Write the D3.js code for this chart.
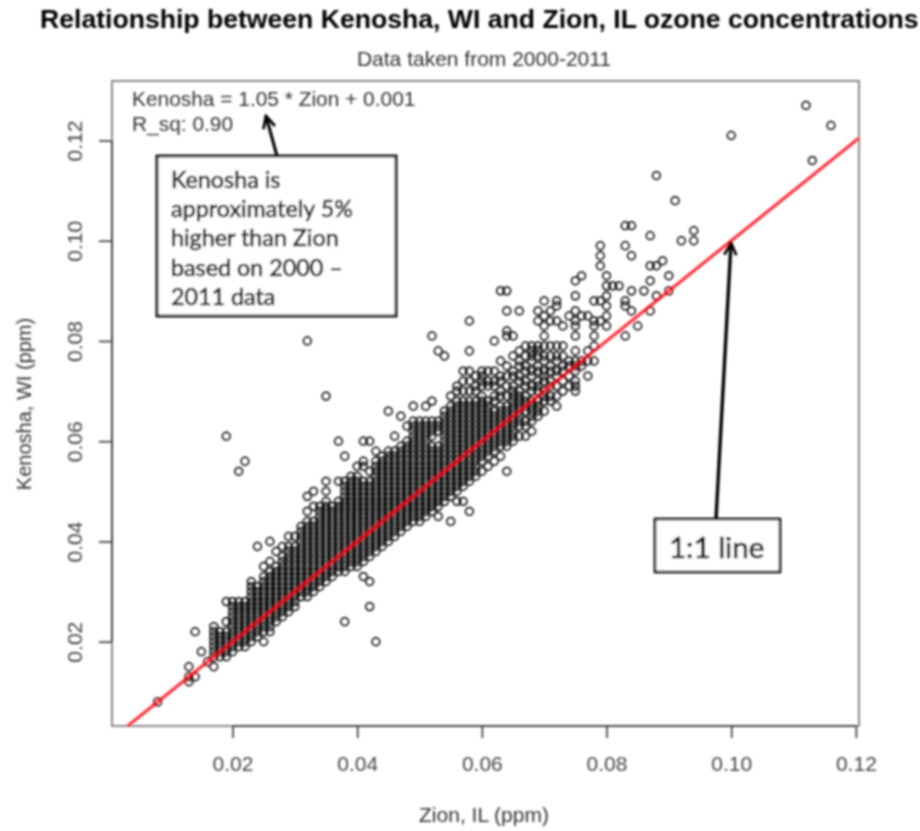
<!DOCTYPE html>
<html>
<head>
<meta charset="utf-8">
<script src="https://cdn.jsdelivr.net/npm/d3@7"></script>
<style>
html,body{margin:0;padding:0;background:#fff;overflow:hidden}
svg{display:block}
</style>
</head>
<body>
<div id="chart"></div>
<script>
// values, in ppb (grid is 0.001 ppm)
var zion = [8,13,14,15,16,17,18,19,20,21,22,23,24,25,26,27,28,29,30,31,32,33,34,35,36,37,38,39,40,41,42,43,44,45,46,47,48,49,50,51,52,53,54,55,56,57,58,59,60,61,62,63,64,65,66,67,68,69,70,71,72,73,74,75,76,77,78,79,80,81,82,83,84,85,86,87,88,89,90,91,92,94,100,112,113,116];
var kenosha = [
[8],
[12,13,15],
[13,22],
[18],
[16],
[15,17,18,19,20,21,22,23],
[17,18,19,20,21,22],
[17,18,19,20,21,22,24,28,61],
[18,19,20,21,22,23,24,25,26,27,28],
[19,20,21,22,23,24,25,26,27,28,54],
[19,20,21,22,23,24,25,26,27,28,56],
[20,21,22,23,24,25,26,27,28,29,30,31,32],
[21,22,23,24,25,26,27,28,29,30,31,39],
[20,22,23,24,25,26,27,28,29,30,31,32,33,35],
[22,23,24,25,26,27,28,29,30,31,32,33,34,36,40],
[24,25,26,27,28,29,30,31,32,33,34,35,38],
[25,26,27,28,29,30,31,32,33,34,35,36,37,39],
[26,27,28,29,30,31,32,33,34,35,36,37,38,39,41],
[27,28,29,30,31,32,33,34,35,36,37,38,39,41],
[29,30,31,32,33,34,35,36,37,38,39,40,41,42,43],
[29,30,31,32,33,34,35,36,37,38,39,40,41,42,43,44,46,49,80],
[30,31,32,33,34,35,36,37,38,39,40,41,42,43,44,47,50],
[31,32,33,34,35,36,37,38,39,40,41,42,43,44,45,46,47],
[32,33,34,35,36,37,38,39,40,41,42,43,44,45,46,47,48,50,52,69],
[33,34,35,36,37,38,39,40,41,42,43,44,45,46,47],
[34,35,36,37,38,39,40,41,42,43,44,45,46,47,48,52,60],
[24,34,35,36,37,38,39,40,41,42,43,44,45,46,47,48,49,50,51,52,57],
[35,36,37,38,39,40,41,42,43,44,45,46,47,48,49,50,51,52,53],
[35,36,37,38,39,40,41,42,43,44,45,46,47,48,49,50,51,52,53,55],
[33,36,37,38,39,40,41,42,43,44,45,46,47,48,49,50,51,52,55,56,60],
[27,32,37,38,39,40,41,42,43,44,45,46,47,48,49,50,51,52,54,60],
[20,38,39,40,41,42,43,44,45,46,47,48,49,50,51,52,53,54,55,56,58],
[39,40,41,42,43,44,45,46,47,48,49,50,51,52,53,54,55,56,57],
[40,41,42,43,44,45,46,47,48,49,50,51,52,53,54,55,56,57,58,66],
[41,42,43,44,45,46,47,48,49,50,51,52,53,54,55,56,57,58,61],
[42,43,44,45,46,47,48,49,50,51,52,53,54,55,56,57,58,59,65],
[43,44,45,46,47,48,49,50,51,52,53,54,55,56,57,58,59,60,63],
[44,45,46,47,48,49,50,51,52,53,54,55,56,57,58,59,60,61,62,63,64,67],
[44,45,46,47,48,49,50,51,52,53,54,55,56,57,58,59,60,61,62,63,64],
[45,46,47,48,49,50,51,52,53,54,55,56,57,58,59,60,61,62,63,64,67],
[46,47,48,49,50,51,52,53,54,55,56,57,58,59,61,62,63,64,68,81],
[45,47,48,49,50,51,52,53,54,55,56,57,58,59,62,63,64,78],
[48,49,50,51,52,53,54,55,56,57,58,59,60,61,62,63,64,65,66,77],
[44,49,50,51,52,53,54,55,56,57,58,59,60,61,62,63,64,65,66,67,69],
[48,50,51,52,53,54,55,56,57,58,59,60,61,62,63,64,65,66,67,68,70,71],
[48,51,52,53,54,55,56,57,58,59,60,61,62,63,64,65,66,67,68,70,72,74],
[46,52,53,54,55,56,57,58,59,60,61,62,63,64,65,66,67,68,70,72,74,78,84],
[53,54,55,56,57,58,59,60,61,62,63,64,65,66,67,68,70,71,73],
[54,56,57,58,59,60,61,62,63,64,65,66,67,68,69,71,72,73,74],
[55,57,58,59,60,61,62,63,64,65,66,67,68,71,72,74],
[56,58,59,60,61,62,63,64,65,66,68,69,71,72,74,80],
[57,59,60,61,62,63,64,65,66,67,69,70,72,73,76,90],
[54,59,60,61,62,63,64,65,66,67,69,71,73,75,81,82,86,90],
[60,61,62,63,64,65,66,67,68,69,70,71,73,74,77,81],
[61,63,64,65,66,67,68,69,70,72,73,75,76,78,86],
[61,63,64,66,67,68,69,71,72,74,75,77,79],
[62,64,65,66,67,68,70,71,73,74,76,77,78,79],
[65,66,67,68,70,71,72,74,75,77,78,79,84,86],
[66,68,69,70,72,73,74,76,77,79,81,83,85,88],
[68,69,71,72,74,75,77,79,84,86],
[67,69,71,73,74,76,77,79,84,87,88],
[70,72,74,75,77,79,83],
[71,73,75,76,85],
[70,71,72,74,75,76,78,81,83,84,86,89,92],
[75,76,85,93],
[73,76,78,85],
[76,79,81,83,84,88],
[84,88,95,97,99],
[83,85,87,89,91,93],
[91],
[91],
[81,87,88,99,103],
[86,90,97,103],
[83],
[90],
[86,92,95,101],
[89,95,113],
[96],
[90,93],
[108],
[100],
[100,102],
[121],
[127],
[116],
[123]
];
var xTicks = [0.02,0.04,0.06,0.08,0.10,0.12];
var yTicks = [0.02,0.04,0.06,0.08,0.10,0.12];
var calloutLines = ["Kenosha is","approximately 5%","higher than Zion","based on 2000 \u2013","2011 data"];

var w = 920, h = 831;

var points = [];
zion.forEach(function(z,i){
  kenosha[i].forEach(function(k){
    points.push([z/1000,k/1000]);
  });
});

var x = d3.scaleLinear().domain([0.00067,0.1205]).range([112,859]);
var y = d3.scaleLinear().domain([0.00318,0.13187]).range([726,81]);

var svg = d3.select("#chart").append("svg")
  .attr("width",w).attr("height",h)
  .style("font-family","'Liberation Sans',Arial,sans-serif");

var defs = svg.append("defs");
defs.append("filter").attr("id","soft")
  .attr("filterUnits","userSpaceOnUse")
  .attr("x",0).attr("y",0).attr("width",w).attr("height",h)
  .append("feGaussianBlur").attr("stdDeviation",0.8);

defs.append("marker").attr("id","head")
  .attr("viewBox","0 0 16 16").attr("refX",14).attr("refY",8)
  .attr("markerWidth",16).attr("markerHeight",16).attr("markerUnits","userSpaceOnUse")
  .attr("orient","auto")
  .append("path").attr("d","M2,2 L14,8 L2,14").attr("fill","none").attr("stroke","#000").attr("stroke-width",2.8);

var g = svg.append("g").attr("filter","url(#soft)");

// plot box
g.append("rect").attr("x",112).attr("y",81).attr("width",747).attr("height",645)
  .attr("fill","none").attr("stroke","#888").attr("stroke-width",2);

// points
g.append("g").selectAll("circle").data(points).enter().append("circle")
  .attr("cx",function(d){return x(d[0]);})
  .attr("cy",function(d){return y(d[1]);})
  .attr("r",3.9)
  .attr("fill","none")
  .attr("stroke","#000")
  .attr("stroke-width",1.5);

// 1:1 line
g.append("line")
  .attr("x1",x(0.00318)).attr("y1",y(0.00318))
  .attr("x2",x(0.1205)).attr("y2",y(0.1205))
  .attr("stroke","#ff0010").attr("stroke-width",3.2).attr("stroke-opacity",0.8);

// axes, R style
var xAxis = g.append("g").attr("transform","translate(0,726)")
  .call(d3.axisBottom(x).tickValues(xTicks).tickSize(12).tickFormat(d3.format(".2f")));
var yAxis = g.append("g").attr("transform","translate(112,0)")
  .call(d3.axisLeft(y).tickValues(yTicks).tickSize(13).tickFormat(d3.format(".2f")));
xAxis.select(".domain").attr("d","M"+x(0.02)+",0H"+x(0.12));
yAxis.select(".domain").attr("d","M0,"+y(0.02)+"V"+y(0.12));
g.selectAll(".domain,.tick line").attr("stroke","#333").attr("stroke-width",1.6);
xAxis.selectAll("text").attr("y",30).attr("fill","#444").attr("font-size",21).attr("font-family","'Liberation Sans'");
yAxis.selectAll("text").attr("fill","#444").attr("font-size",21).attr("font-family","'Liberation Sans'")
  .attr("text-anchor","middle").attr("dy",null)
  .attr("x",null).attr("y",null)
  .attr("transform","translate(-30,0) rotate(-90)");

// titles
g.append("text").attr("x",40).attr("y",28).attr("font-weight","bold").attr("font-size",26.6).attr("fill","#000")
  .text("Relationship between Kenosha, WI and Zion, IL ozone concentrations");
g.append("text").attr("x",484).attr("y",66).attr("text-anchor","middle").attr("font-size",21).attr("fill","#333")
  .text("Data taken from 2000-2011");
g.append("text").attr("x",484).attr("y",822).attr("text-anchor","middle").attr("font-size",21).attr("fill","#333")
  .text("Zion, IL (ppm)");
g.append("text").attr("transform","translate(31,404) rotate(-90)").attr("text-anchor","middle").attr("font-size",20).attr("fill","#333")
  .text("Kenosha, WI (ppm)");
g.append("text").attr("x",132).attr("y",106).attr("font-size",20.9).attr("fill","#333")
  .text("Kenosha = 1.05 * Zion + 0.001");
g.append("text").attr("x",132).attr("y",131).attr("font-size",20.9).attr("fill","#333")
  .text("R_sq: 0.90");

// callouts
g.append("line").attr("x1",277).attr("y1",156).attr("x2",266).attr("y2",116)
  .attr("stroke","#000").attr("stroke-width",3).attr("marker-end","url(#head)");
g.append("rect").attr("x",157).attr("y",156).attr("width",239).attr("height",160)
  .attr("fill","#fff").attr("stroke","#111").attr("stroke-width",2.8);
g.append("g").selectAll("text").data(calloutLines).enter().append("text")
  .attr("x",171).attr("y",function(d,i){return 188+i*29.2;})
  .attr("font-family","Lato").attr("font-size",23.3).attr("fill","#000")
  .attr("stroke","#000").attr("stroke-width",0.6)
  .text(function(d){return d;});

g.append("line").attr("x1",716).attr("y1",519).attr("x2",731).attr("y2",243)
  .attr("stroke","#000").attr("stroke-width",3.4).attr("marker-end","url(#head)");
g.append("rect").attr("x",655).attr("y",519).attr("width",125).attr("height",53)
  .attr("fill","#fff").attr("stroke","#111").attr("stroke-width",2.6);
g.append("text").attr("x",669).attr("y",558).attr("font-family","Lato").attr("font-size",29.5).attr("fill","#000")
  .attr("stroke","#000").attr("stroke-width",0.6)
  .text("1:1 line");
</script>
</body>
</html>
